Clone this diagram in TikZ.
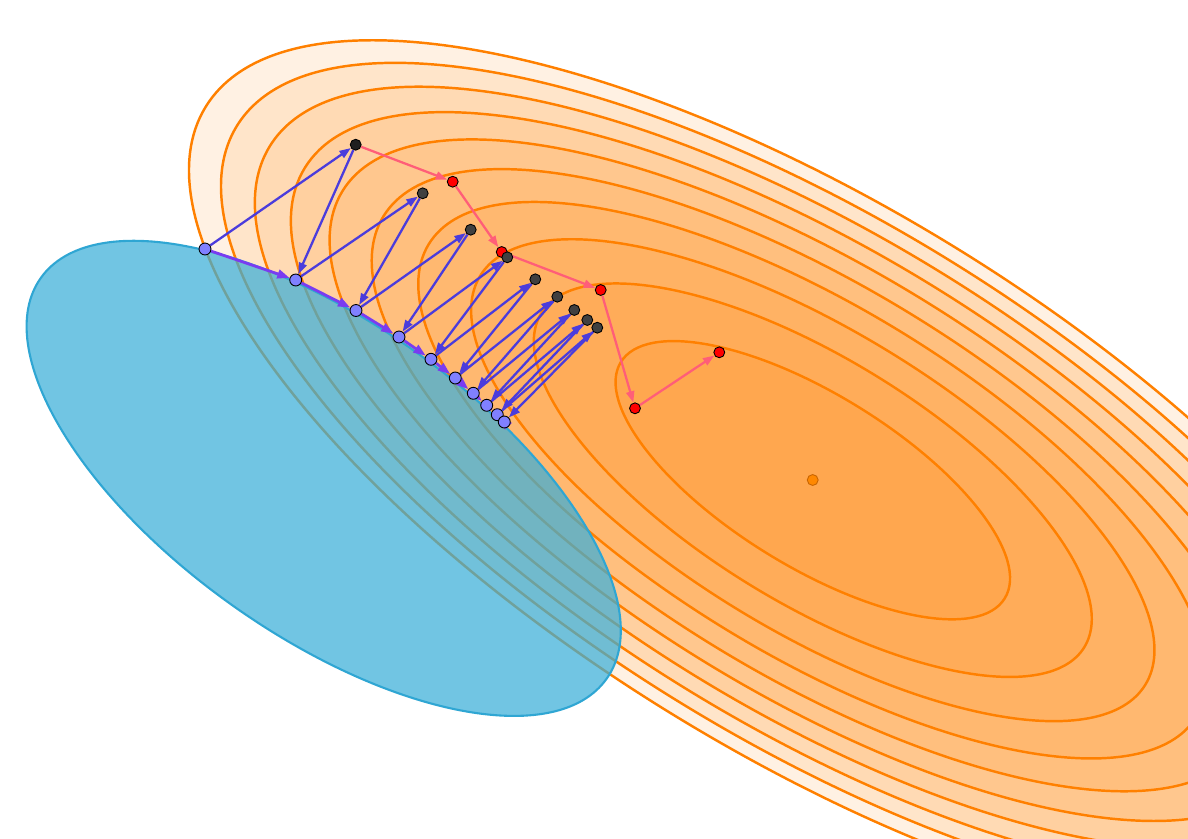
\documentclass[tikz,border=0pt]{standalone}
\usetikzlibrary{arrows.meta}
\pgfdeclarelayer{front}
\pgfsetlayers{main,front}
\definecolor{lvlorange}{HTML}{FF8000}
\definecolor{setblue}{HTML}{3AAED8}
\definecolor{setedge}{HTML}{2FA6D3}
\definecolor{projviolet}{HTML}{7A3CF0}
\definecolor{stepblue}{HTML}{4B3CDC}
\definecolor{pathpink}{HTML}{FF5E78}
\definecolor{feasfill}{HTML}{8080FF}
\definecolor{gradfill}{HTML}{404040}
\definecolor{optfill}{HTML}{FF8800}
\definecolor{optedge}{HTML}{C86400}
\begin{document}
\begin{tikzpicture}[x=0.02cm, y=-0.02cm,
    contour/.style={fill=lvlorange, fill opacity=0.11, draw=lvlorange, line width=1.4pt},
    ptbase/.style={circle, inner sep=0pt, minimum size=6.2pt, draw=black, line width=0.5pt},
    feas/.style={ptbase, fill=feasfill, minimum size=6.8pt},
    gradpt/.style={ptbase, fill=gradfill},
    freept/.style={ptbase, fill=red},
    gstep/.style={-{Triangle[length=6.5pt,width=4.6pt]}, stepblue, line width=1.3pt},
    pstep/.style={-{Triangle[length=7pt,width=5pt]}, projviolet, line width=1.6pt},
    rstep/.style={-{Triangle[length=6.5pt,width=4.6pt]}, pathpink, line width=1.3pt}]
        \clip (0,0) rectangle (1188,839);

        % level sets of the objective
        \foreach \k in {10,...,1}
            \draw[contour] (812.8,480.2) ellipse [x radius={225.4*sqrt(\k)}, y radius={86.3*sqrt(\k)}, rotate=-31.6];

        % feasible set
        \draw[fill=setblue, fill opacity=0.72, draw=setedge, line width=1.2pt]
            (323.7,478.35) ellipse [x radius=346.7, y radius=156.4, rotate=-35.3];

        \begin{pgfonlayer}{front}
        % unconstrained iterates
        \node[freept] (R1) at (452.7,181.7) {};
        \node[freept] (R2) at (501.7,252) {};
        \node[freept] (R3) at (600.7,290) {};
        \node[freept] (R4) at (635,408.3) {};
        \node[freept] (R5) at (719.3,352.3) {};

        % gradient steps
        \node[gradpt, fill=black!88] (Q0) at (355.7,144.7) {};
        \node[gradpt] (Q1) at (422.7,193.3) {};
        \node[gradpt] (Q2) at (470.7,229.7) {};
        \node[gradpt] (Q3) at (507.3,257.3) {};
        \node[gradpt] (Q4) at (535.3,279.3) {};
        \node[gradpt] (Q5) at (557.3,296.7) {};
        \node[gradpt] (Q6) at (574.3,310) {};
        \node[gradpt] (Q7) at (587.3,320) {};
        \node[gradpt] (Q8) at (597.3,327.7) {};

        % projected iterates
        \node[feas] (P0) at (205,249) {};
        \node[feas] (P1) at (295.7,280) {};
        \node[feas] (P2) at (356,310.5) {};
        \node[feas] (P3) at (399,337) {};
        \node[feas] (P4) at (431,359.3) {};
        \node[feas] (P5) at (455.3,378) {};
        \node[feas] (P6) at (473.3,393.3) {};
        \node[feas] (P7) at (486.7,405.3) {};
        \node[feas] (P8) at (497.3,414.7) {};
        \node[feas] (P9) at (504.3,422) {};

        % minimiser
        \node[ptbase, fill=optfill, draw=optedge] (opt) at (812.7,480) {};
        \end{pgfonlayer}

        % plain gradient descent
        \draw[rstep] (Q0) -- (R1);
        \draw[rstep] (R1) -- (R2);
        \draw[rstep] (R2) -- (R3);
        \draw[rstep] (R3) -- (R4);
        \draw[rstep] (R4) -- (R5);

        % step then project
        \foreach \i [evaluate=\i as \j using int(\i+1)] in {0,...,8} {
            \draw[gstep] (P\i) -- (Q\i);
            \draw[gstep] (Q\i) -- (P\j);
            \draw[pstep] (P\i) -- (P\j);
        }
    \end{tikzpicture}
\end{document}
